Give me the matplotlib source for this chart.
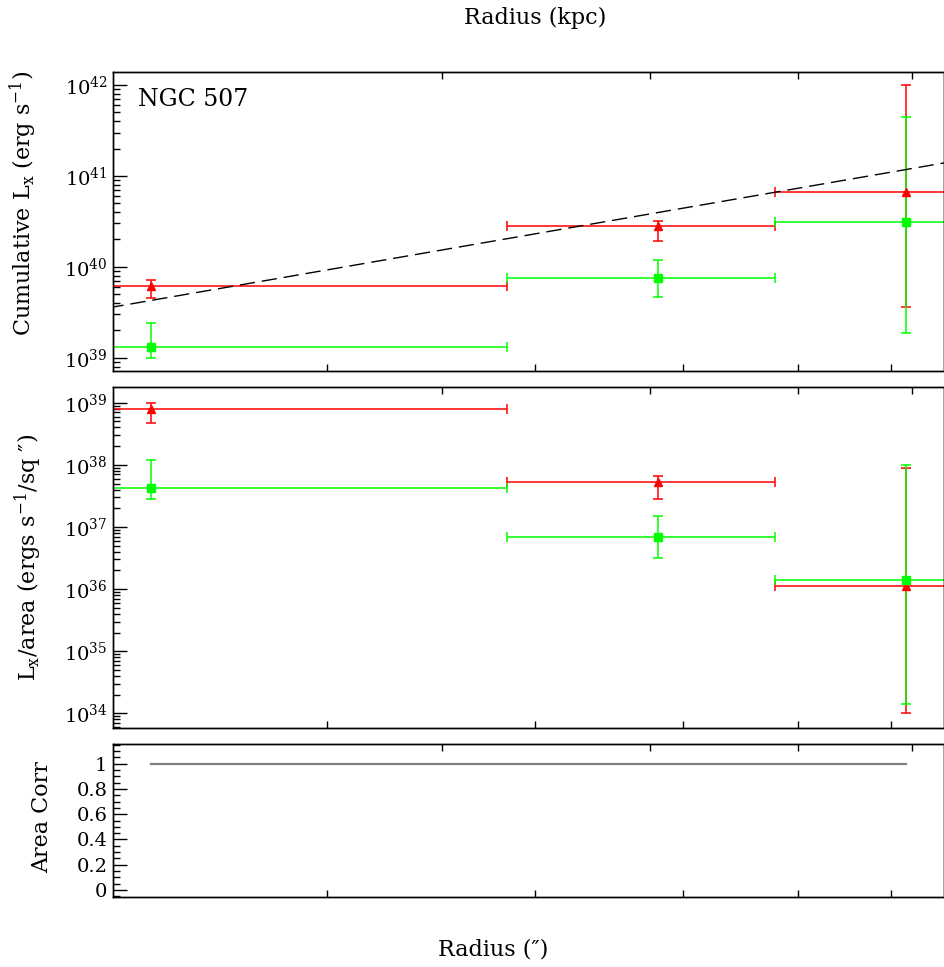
import matplotlib
matplotlib.use("Agg")
import matplotlib.pyplot as plt
from matplotlib.ticker import LogLocator, NullFormatter, MultipleLocator, FixedLocator
import numpy as np

plt.rcParams['font.family'] = ['DejaVu Serif', 'DejaVu Sans']
plt.rcParams['mathtext.fontset'] = 'dejavuserif'

#-----Data-----#
bin_edges = [0.0, 28.4, 47.8, 75.8]          # arcsec
bin_mid = [14.2, 38.1, 61.8]

# cumulative Lx (erg/s)
cum_red = [6.2e39, 2.8e40, 6.6e40]
cum_red_hi = [7.1e39, 3.2e40, 1.0e42]
cum_red_lo = [4.5e39, 1.93e40, 3.6e39]
cum_green = [1.3e39, 7.5e39, 3.1e40]
cum_green_hi = [2.4e39, 1.2e40, 4.4e41]
cum_green_lo = [1.0e39, 4.7e39, 1.86e39]

# Lx per area (erg/s/sq arcsec)
sb_red = [7.8e38, 5.25e37, 1.12e36]
sb_red_hi = [1.0e39, 6.7e37, 8.9e37]
sb_red_lo = [4.7e38, 2.8e37, 1.0e34]
sb_green = [4.3e37, 6.9e36, 1.38e36]
sb_green_hi = [1.2e38, 1.49e37, 9.8e37]
sb_green_lo = [2.8e37, 3.2e36, 1.4e34]

area_corr = [1.0, 1.0, 1.0]

# power-law reference curve
model_r = [10.0, 100.0]
model_lx = [1.94e39, 3.49e41]

kpc_per_arcsec = 0.4
kpc_ticks = [10, 15, 20, 25]
arcsec_ticks = [20, 30, 40, 50, 60]
r_min, r_max = 13.18, 66.5

x_lo = np.array(bin_mid) - np.array(bin_edges[:-1])
x_hi = np.array(bin_edges[1:]) - np.array(bin_mid)

RED = '#ff0000'
GREEN = '#00ff00'


def yerr(val, lo, hi):
    val = np.array(val)
    return [val - np.array(lo), np.array(hi) - val]


def style_axis(ax):
    ax.set_xscale('log')
    ax.set_xlim(r_min, r_max)
    ax.xaxis.set_major_locator(FixedLocator(arcsec_ticks))
    ax.xaxis.set_minor_locator(FixedLocator([]))
    ax.xaxis.set_major_formatter(NullFormatter())
    ax.xaxis.set_minor_formatter(NullFormatter())
    ax.tick_params(axis='x', which='both', direction='in', length=5, width=1,
                   bottom=True, top=False)
    ax.tick_params(axis='y', which='major', direction='in', length=10, width=1,
                   left=True, right=False, labelsize=14, pad=4)
    ax.tick_params(axis='y', which='minor', direction='in', length=5, width=1,
                   left=True, right=False)
    for sp in ax.spines.values():
        sp.set_linewidth(1.0)
    # kpc scale along the top edge
    top = ax.twiny()
    top.set_xscale('log')
    top.set_xlim(r_min * kpc_per_arcsec, r_max * kpc_per_arcsec)
    top.xaxis.set_major_locator(FixedLocator(kpc_ticks))
    top.xaxis.set_minor_locator(FixedLocator([]))
    top.xaxis.set_major_formatter(NullFormatter())
    top.xaxis.set_minor_formatter(NullFormatter())
    top.tick_params(axis='x', which='both', direction='in', length=5, width=1,
                    top=True, bottom=False)
    for sp in top.spines.values():
        sp.set_linewidth(1.0)


def draw_points(ax, val, lo, hi, color, marker, ms):
    ax.errorbar(bin_mid, val, xerr=[x_lo, x_hi], yerr=yerr(val, lo, hi),
                fmt=marker, color=color, ecolor=color, ms=ms, mec=color,
                elinewidth=1.1, capsize=3.5, capthick=1.1)


fig = plt.figure(figsize=(9.45, 9.67), dpi=100)
ax1 = fig.add_axes([0.1196, 0.6163, 0.8794, 0.3089])
ax2 = fig.add_axes([0.1196, 0.2468, 0.8794, 0.3533])
ax3 = fig.add_axes([0.1196, 0.0727, 0.8794, 0.1579])

#-----Cumulative Lx-----#
ax1.set_yscale('log')
ax1.set_ylim(10**38.854, 10**42.14)
ax1.yaxis.set_major_locator(LogLocator(base=10))
ax1.yaxis.set_minor_locator(LogLocator(base=10, subs=np.arange(2, 10)))
ax1.yaxis.set_minor_formatter(NullFormatter())
draw_points(ax1, cum_red, cum_red_lo, cum_red_hi, RED, '^', 6)
draw_points(ax1, cum_green, cum_green_lo, cum_green_hi, GREEN, 's', 5.5)
ax1.plot(model_r, model_lx, color='black', lw=1.0, dashes=(11, 5))
ax1.text(0.030, 0.947, 'NGC 507', transform=ax1.transAxes, fontsize=17,
         ha='left', va='top')
style_axis(ax1)

#-----Lx per area-----#
ax2.set_yscale('log')
ax2.set_ylim(10**33.759, 10**39.258)
ax2.yaxis.set_major_locator(LogLocator(base=10, numticks=20))
ax2.yaxis.set_minor_locator(LogLocator(base=10, subs=np.arange(2, 10), numticks=20))
ax2.yaxis.set_minor_formatter(NullFormatter())
draw_points(ax2, sb_red, sb_red_lo, sb_red_hi, RED, '^', 6)
draw_points(ax2, sb_green, sb_green_lo, sb_green_hi, GREEN, 's', 5.5)
style_axis(ax2)

#-----Area correction-----#
ax3.set_ylim(-0.053, 1.156)
ax3.yaxis.set_major_locator(MultipleLocator(0.2))
ax3.yaxis.set_minor_locator(MultipleLocator(0.05))
ax3.yaxis.set_major_formatter(lambda v, p: '%g' % round(v, 2))
ax3.plot(bin_mid, area_corr, color='#7f7f7f', lw=1.6)
style_axis(ax3)

#-----Labels-----#
fig.text(0.566, 0.981, 'Radius (kpc)', fontsize=16, ha='center', va='center')
fig.text(0.522, 0.0176, 'Radius (\u2033)', fontsize=16, ha='center', va='center')
fig.text(0.0243, 0.790, r'Cumulative L$_{\rm x}$ (erg s$^{-1}$)', fontsize=16,
         rotation=90, ha='center', va='center')
fig.text(0.0296, 0.424, 'L$_{\\rm x}$/area (ergs s$^{-1}$/sq \u2033)', fontsize=16,
         rotation=90, ha='center', va='center')
fig.text(0.0444, 0.155, 'Area Corr', fontsize=16, rotation=90,
         ha='center', va='center')

fig.savefig('out.png', dpi=100)
